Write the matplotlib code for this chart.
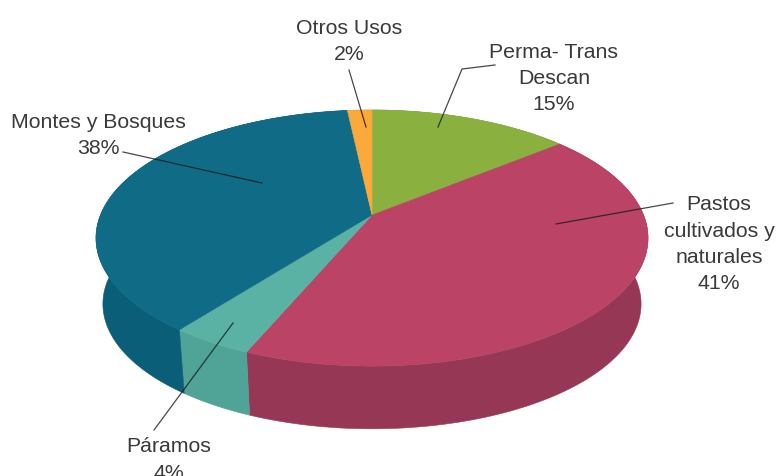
import numpy as np
import matplotlib
matplotlib.use("Agg")
import matplotlib.pyplot as plt
from matplotlib.patches import Polygon

#values, clockwise from 12 o'clock
names = ["Perma- Trans\nDescan", "Pastos\ncultivados y\nnaturales", "Páramos", "Montes y Bosques", "Otros Usos"]
percent_labels = ["15%", "41%", "4%", "38%", "2%"]
#slice sizes as drawn, they differ a little from the printed labels
values = [14.0, 42.3, 4.1, 37.9, 1.7]
top_colors = ["#8AB03F", "#BB4466", "#5AB2A5", "#0F6B86", "#FBA93A"]
wall_colors = ["#76973A", "#963756", "#4FA497", "#0B5E77", "#D9902F"]

#pie geometry in pixels, with a perspective term
cx, cy = 372, 215
rx, ry = 271.5, 123.9
k = -0.18
depth = 66.5
shrink = 0.975

plt.rcParams['font.family'] = ['Liberation Sans', 'DejaVu Sans']

fig = plt.figure(figsize=(7.79, 4.76), dpi=100)
ax = fig.add_axes([0, 0, 1, 1])
ax.set_xlim(0, 779)
ax.set_ylim(476, 0)
ax.axis('off')


def top_pts(t):
    u = -np.cos(t)
    v = np.sin(t)
    d = 1 + k * u
    return cx + rx * v / d, cy + ry * u / d


def bottom_pts(t):
    x, y = top_pts(t)
    return cx + (x - cx) * shrink, cy + (y - cy) * shrink + depth


edges = np.cumsum([0] + values) / sum(values) * 2 * np.pi
slices = list(zip(edges[:-1], edges[1:], top_colors, wall_colors))

#walls first, tops go over them
for a, b, top_c, wall_c in slices:
    t = np.linspace(a, b, 120)
    x1, y1 = top_pts(t)
    x2, y2 = bottom_pts(t)
    pts = np.column_stack([np.r_[x1, x2[::-1]], np.r_[y1, y2[::-1]]])
    ax.add_patch(Polygon(pts, fc=wall_c, ec=wall_c, lw=0.4, zorder=2))

for a, b, top_c, wall_c in slices:
    t = np.linspace(a, b, 120)
    x1, y1 = top_pts(t)
    pts = np.column_stack([np.r_[cx, x1], np.r_[cy, y1]])
    ax.add_patch(Polygon(pts, fc=top_c, ec=top_c, lw=0.4, zorder=3))

#leader lines
leaders = [
    ([495, 462, 438], [65, 69, 127]),
    ([673, 556], [203, 224]),
    ([154, 233], [430, 323]),
    ([123, 262], [152, 183]),
    ([349, 366], [70, 127]),
]
for lx, ly in leaders:
    ax.plot(lx, ly, color='#1a1a1a', lw=0.9, alpha=0.8, zorder=4)

#labels, one line at a time so the spacing stays fixed
label_pos = [(554, 52), (719, 205), (169, 447), (98, 122), (349, 28)]
for name, pct, (lx, ly) in zip(names, percent_labels, label_pos):
    for i, line in enumerate(name.split("\n") + [pct]):
        ax.text(lx, ly + i * 26.3, line, ha='center', va='center',
                fontsize=15.3, color='#3a3a3a', zorder=5)

fig.savefig("out.png", dpi=100)
